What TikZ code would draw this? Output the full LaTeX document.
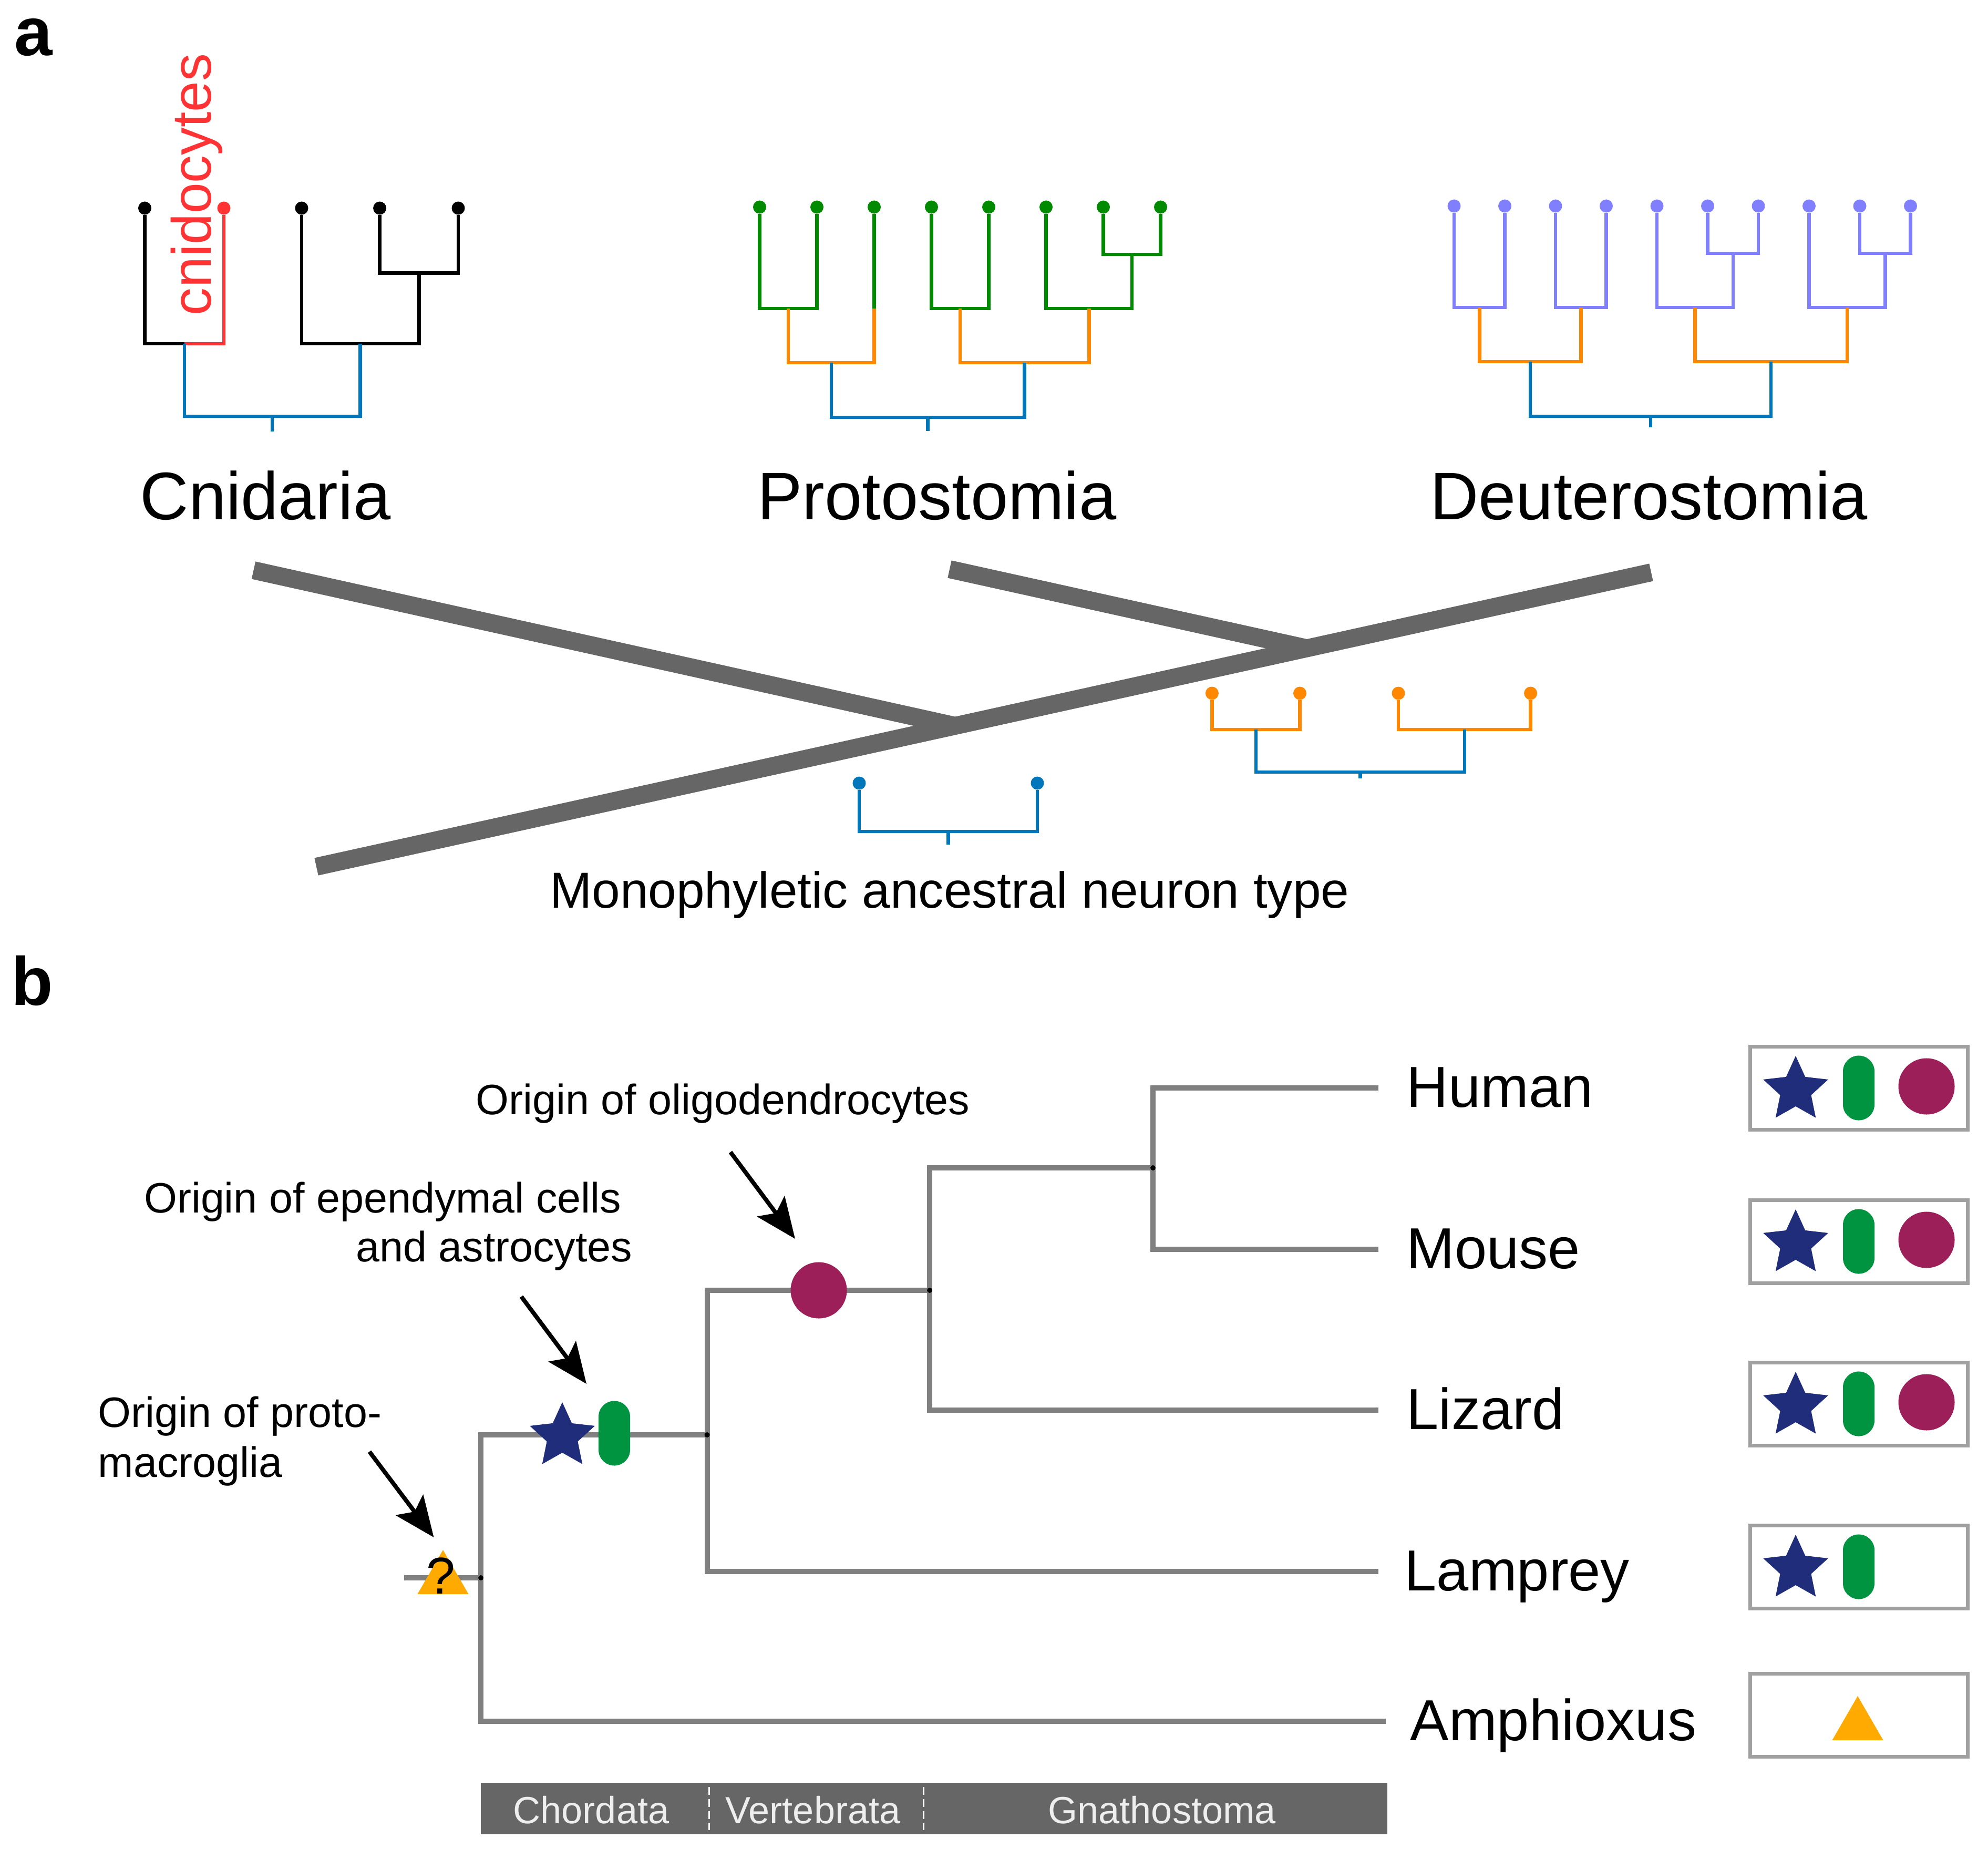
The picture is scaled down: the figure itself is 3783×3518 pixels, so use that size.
\documentclass[tikz,border=0pt]{standalone}
\usepackage{fontspec}
\setmainfont{Liberation Sans}
\usetikzlibrary{arrows.meta, shapes.geometric, positioning}

\definecolor{cnidred}{RGB}{255,51,51}
\definecolor{clblue}{RGB}{0,119,187}
\definecolor{clorange}{RGB}{255,136,0}
\definecolor{clgreen}{RGB}{0,138,0}
\definecolor{clpurple}{RGB}{128,128,255}
\definecolor{trunkgray}{RGB}{102,102,102}
\definecolor{treegray}{RGB}{128,128,128}
\definecolor{starblue}{RGB}{31,45,122}
\definecolor{pillgreen}{RGB}{0,148,64}
\definecolor{oligored}{RGB}{156,31,90}
\definecolor{protoyellow}{RGB}{255,170,0}
\definecolor{boxgray}{RGB}{160,160,160}
\definecolor{barfont}{RGB}{238,238,238}

\begin{document}
\begin{tikzpicture}[
	x=0.01cm, y=-0.01cm,
	>=Stealth,
	tip/.style={circle, fill, inner sep=0pt, minimum size=0.25cm},
	clade/.style={line width=0.065cm},
	trunk/.style={line width=0.34cm, trunkgray},
	branch/.style={line width=0.1cm, treegray},
	pointer/.style={-{Stealth[length=0.77cm, width=0.65cm, inset=0.16cm]}, line width=0.08cm},
	panel/.style={inner sep=0pt, font=\fontsize{37}{40}\selectfont\bfseries},
	cladename/.style={inner sep=0pt, font=\fontsize{36.4}{40}\selectfont},
	cnido/.style={inner sep=0pt, text=cnidred, font=\fontsize{30}{34}\selectfont},
	mono/.style={inner sep=0pt, font=\fontsize{27.4}{30}\selectfont},
	origin/.style={inner sep=0pt, font=\fontsize{23}{27}\selectfont},
	species/.style={inner sep=0pt, font=\fontsize{31.3}{34}\selectfont},
	barlabel/.style={inner sep=0pt, text=barfont, font=\fontsize{20.5}{24}\selectfont},
	starmark/.style={star, star points=5, star point ratio=2.1, minimum size=1.3cm, inner sep=0pt, fill=starblue},
	pillmark/.style={rectangle, rounded corners=0.3cm, minimum width=0.6cm, minimum height=1.23cm, inner sep=0pt, fill=pillgreen},
	oligomark/.style={circle, minimum size=1.07cm, inner sep=0pt, fill=oligored},
	trimark/.style={regular polygon, regular polygon sides=3, minimum size=1.12cm, inner sep=0pt, fill=protoyellow},
	legend/.style={draw=boxgray, line width=0.07cm, minimum width=4.14cm, minimum height=1.58cm, inner sep=0pt}
	]
	\useasboundingbox (0,0) rectangle (3783,3518);
	
	% Panel a
	\node[panel, anchor=base west] (la) at (27,106) {a};
	
	% Cnidaria
	\node[tip] (C1) at (275.5,396) {};
	\node[tip, cnidred] (C2) at (426,396) {};
	\node[tip] (C3) at (574,396) {};
	\node[tip] (C4) at (722.6,396) {};
	\node[tip] (C5) at (872,396) {};
	\coordinate (C12) at (350.75,654);
	\coordinate (C45) at (797.3,519.5);
	\coordinate (C345) at (685.65,654);
	\coordinate (Croot) at (518.2,792);
	\coordinate (Cstem) at (518.2,821);
	\draw[clade] (C1) |- (C12);
	\draw[clade, cnidred] (C12) -| (C2);
	\draw[clade] (C4) |- (C45) -| (C5);
	\draw[clade] (C3) |- (C345) -| (C45);
	\draw[clade, clblue] (C12) |- (Croot) -| (C345);
	\draw[clade, clblue] (Croot) -- (Cstem);
	\node[cnido, rotate=90, anchor=base west] (cnidlbl) at (401,601) {cnidocytes};
	
	% Protostomia
	\node[tip, clgreen] (P1) at (1445.5,394) {};
	\node[tip, clgreen] (P2) at (1554.5,394) {};
	\node[tip, clgreen] (P3) at (1663.5,394) {};
	\node[tip, clgreen] (P4) at (1772.5,394) {};
	\node[tip, clgreen] (P5) at (1881.5,394) {};
	\node[tip, clgreen] (P6) at (1990.5,394) {};
	\node[tip, clgreen] (P7) at (2099.5,394) {};
	\node[tip, clgreen] (P8) at (2208.5,394) {};
	\coordinate (P12) at (1500,587);
	\coordinate (P3g) at (1663.5,587);
	\coordinate (P123) at (1581.75,690);
	\coordinate (P45) at (1827,587);
	\coordinate (P78) at (2154,484);
	\coordinate (P678) at (2072.25,587);
	\coordinate (P45678) at (1949.6,690);
	\coordinate (Proot) at (1765.7,794);
	\coordinate (Pstem) at (1765.7,820);
	\draw[clade, clgreen] (P1) |- (P12) -| (P2);
	\draw[clade, clgreen] (P3) -- (P3g);
	\draw[clade, clgreen] (P4) |- (P45) -| (P5);
	\draw[clade, clgreen] (P7) |- (P78) -| (P8);
	\draw[clade, clgreen] (P6) |- (P678) -| (P78);
	\draw[clade, clorange] (P12) |- (P123) -| (P3g);
	\draw[clade, clorange] (P45) |- (P45678) -| (P678);
	\draw[clade, clblue] (P123) |- (Proot) -| (P45678);
	\draw[clade, clblue] (Proot) -- (Pstem);
	
	% Deuterostomia
	\node[tip, clpurple] (D1) at (2767,392) {};
	\node[tip, clpurple] (D2) at (2863.5,392) {};
	\node[tip, clpurple] (D3) at (2960,392) {};
	\node[tip, clpurple] (D4) at (3056.5,392) {};
	\node[tip, clpurple] (D5) at (3153,392) {};
	\node[tip, clpurple] (D6) at (3249.5,392) {};
	\node[tip, clpurple] (D7) at (3346,392) {};
	\node[tip, clpurple] (D8) at (3442.5,392) {};
	\node[tip, clpurple] (D9) at (3539,392) {};
	\node[tip, clpurple] (D10) at (3635.5,392) {};
	\coordinate (D12) at (2815.25,585);
	\coordinate (D34) at (3008.25,585);
	\coordinate (D1234) at (2911.75,688);
	\coordinate (D67) at (3297.75,482);
	\coordinate (D567) at (3225.4,585);
	\coordinate (D910) at (3587.25,482);
	\coordinate (D8910) at (3514.9,585);
	\coordinate (D5to10) at (3370.1,688);
	\coordinate (Droot) at (3140.9,792);
	\coordinate (Dstem) at (3140.9,813);
	\draw[clade, clpurple] (D1) |- (D12) -| (D2);
	\draw[clade, clpurple] (D3) |- (D34) -| (D4);
	\draw[clade, clpurple] (D6) |- (D67) -| (D7);
	\draw[clade, clpurple] (D5) |- (D567) -| (D67);
	\draw[clade, clpurple] (D9) |- (D910) -| (D10);
	\draw[clade, clpurple] (D8) |- (D8910) -| (D910);
	\draw[clade, clorange] (D12) |- (D1234) -| (D34);
	\draw[clade, clorange] (D567) |- (D5to10) -| (D8910);
	\draw[clade, clblue] (D1234) |- (Droot) -| (D5to10);
	\draw[clade, clblue] (Droot) -- (Dstem);
	
	% Clade names
	\node[cladename, anchor=base] (cnid) at (505,988) {Cnidaria};
	\node[cladename, anchor=base] (prot) at (1783,988) {Protostomia};
	\node[cladename, anchor=base] (deut) at (3137.5,988) {Deuterostomia};
	
	% Stammbaum
	\coordinate (T0) at (602,1649);
	\coordinate (T1) at (3142,1089);
	\coordinate (J1) at (1817.6,1381);
	\coordinate (J2) at (2487,1233.4);
	\coordinate (Bcnid) at (482.5,1085);
	\coordinate (Bprot) at (1807,1083);
	\draw[trunk] (T0) -- (T1);
	\draw[trunk] (Bcnid) -- (J1);
	\draw[trunk] (Bprot) -- (J2);
	
	% Ancestral types
	\node[tip, clblue] (M1) at (1635,1490) {};
	\node[tip, clblue] (M2) at (1974,1490) {};
	\coordinate (M12) at (1804.5,1582);
	\coordinate (Mstem) at (1804.5,1607);
	\draw[clade, clblue] (M1) |- (M12) -| (M2);
	\draw[clade, clblue] (M12) -- (Mstem);
	
	\node[tip, clorange] (O1) at (2306.4,1319) {};
	\node[tip, clorange] (O2) at (2473.5,1319) {};
	\node[tip, clorange] (O3) at (2661,1319) {};
	\node[tip, clorange] (O4) at (2912.6,1319) {};
	\coordinate (O12) at (2390,1388);
	\coordinate (O34) at (2786.8,1388);
	\coordinate (Oroot) at (2588.4,1469);
	\coordinate (Ostem) at (2588.4,1481);
	\draw[clade, clorange] (O1) |- (O12) -| (O2);
	\draw[clade, clorange] (O3) |- (O34) -| (O4);
	\draw[clade, clblue] (O12) |- (Oroot) -| (O34);
	\draw[clade, clblue] (Oroot) -- (Ostem);
	
	\node[mono, anchor=base] (monolbl) at (1807,1727) {Monophyletic ancestral neuron type};
	
	% Panel b
	\node[panel, anchor=base west] (lb) at (21,1912) {b};
	
	% Baum
	\coordinate (nStub) at (769,3002);
	\coordinate (nRoot) at (915,3002);
	\coordinate (nVert) at (1345.6,2730);
	\coordinate (nGnath) at (1769,2455);
	\coordinate (nMamm) at (2194,2222);
	\coordinate (eHuman) at (2623,2070);
	\coordinate (eMouse) at (2623,2377);
	\coordinate (eLizard) at (2623,2683);
	\coordinate (eLamprey) at (2623,2990);
	\coordinate (eAmph) at (2637,3275);
	\draw[branch] (nStub) -- (nRoot);
	\draw[branch] (nRoot) |- (nVert);
	\draw[branch] (nRoot) |- (eAmph);
	\draw[branch] (nVert) |- (nGnath);
	\draw[branch] (nVert) |- (eLamprey);
	\draw[branch] (nGnath) |- (nMamm);
	\draw[branch] (nGnath) |- (eLizard);
	\draw[branch] (nMamm) |- (eHuman);
	\draw[branch] (nMamm) |- (eMouse);
	\fill (nRoot) circle[radius=0.05cm];
	\fill (nVert) circle[radius=0.05cm];
	\fill (nGnath) circle[radius=0.05cm];
	\fill (nMamm) circle[radius=0.05cm];
	
	% Marker am Baum
	\node[trimark] (triRoot) at (843,3005) {};
	\node[inner sep=0pt, font=\fontsize{28}{30}\selectfont] (qRoot) at (839,2998) {?};
	\node[starmark] (stChord) at (1070,2733) {};
	\node[pillmark] (plChord) at (1169,2727) {};
	\node[oligomark] (olVert) at (1558,2455) {};
	
	% Beschriftung
	\node[origin, anchor=base west] (oOligo) at (905,2120) {Origin of oligodendrocytes};
	\node[origin, anchor=base east] (oEpen1) at (1183,2307) {Origin of ependymal cells};
	\node[origin, anchor=base east] (oEpen2) at (1204,2400) {and astrocytes};
	\node[origin, anchor=base west] (oProto1) at (186,2715) {Origin of proto-};
	\node[origin, anchor=base west] (oProto2) at (186,2810) {macroglia};
	
	\coordinate (a1s) at (1390,2192);
	\coordinate (a1e) at (1513,2357);
	\coordinate (a2s) at (992,2467);
	\coordinate (a2e) at (1116,2633);
	\coordinate (a3s) at (703,2762);
	\coordinate (a3e) at (825.5,2925);
	\draw[pointer] (a1s) -- (a1e);
	\draw[pointer] (a2s) -- (a2e);
	\draw[pointer] (a3s) -- (a3e);
	
	% Arten
	\node[species, anchor=base west] (human) at (2676,2106) {Human};
	\node[species, anchor=base west] (mouse) at (2676,2413) {Mouse};
	\node[species, anchor=base west] (lizard) at (2676,2719) {Lizard};
	\node[species, anchor=base west] (lamprey) at (2672,3026) {Lamprey};
	\node[species, anchor=base west] (amph) at (2683,3311) {Amphioxus};
	
	% Legende
	\node[legend] (bxHuman) at (3537.5,2070.5) {};
	\node[legend] (bxMouse) at (3537.5,2362.5) {};
	\node[legend] (bxLizard) at (3537.5,2671.5) {};
	\node[legend] (bxLamprey) at (3537.5,2981.5) {};
	\node[legend] (bxAmph) at (3537.5,3263.5) {};
	
	\node[starmark] (stHuman) at (3417,2074) {};
	\node[pillmark] (plHuman) at (3537,2070) {};
	\node[oligomark] (olHuman) at (3666,2067) {};
	\node[starmark] (stMouse) at (3417,2366) {};
	\node[pillmark] (plMouse) at (3537,2362) {};
	\node[oligomark] (olMouse) at (3666,2359) {};
	\node[starmark] (stLizard) at (3417,2675) {};
	\node[pillmark] (plLizard) at (3537,2671) {};
	\node[oligomark] (olLizard) at (3666,2668) {};
	\node[starmark] (stLamprey) at (3417,2985) {};
	\node[pillmark] (plLamprey) at (3537,2981) {};
	\node[trimark] (triAmph) at (3535,3283) {};
	
	% Leiste
	\fill[trunkgray] (915,3392) rectangle (2640,3490);
	\draw[white, line width=0.03cm, dash pattern=on 0.15cm off 0.08cm] (1349,3400) -- (1349,3482);
	\draw[white, line width=0.03cm, dash pattern=on 0.15cm off 0.08cm] (1757,3400) -- (1757,3482);
	\node[barlabel, anchor=base] (chord) at (1125,3469) {Chordata};
	\node[barlabel, anchor=base] (vert) at (1547,3469) {Vertebrata};
	\node[barlabel, anchor=base] (gnath) at (2211,3469) {Gnathostoma};
	
\end{tikzpicture}
\end{document}
